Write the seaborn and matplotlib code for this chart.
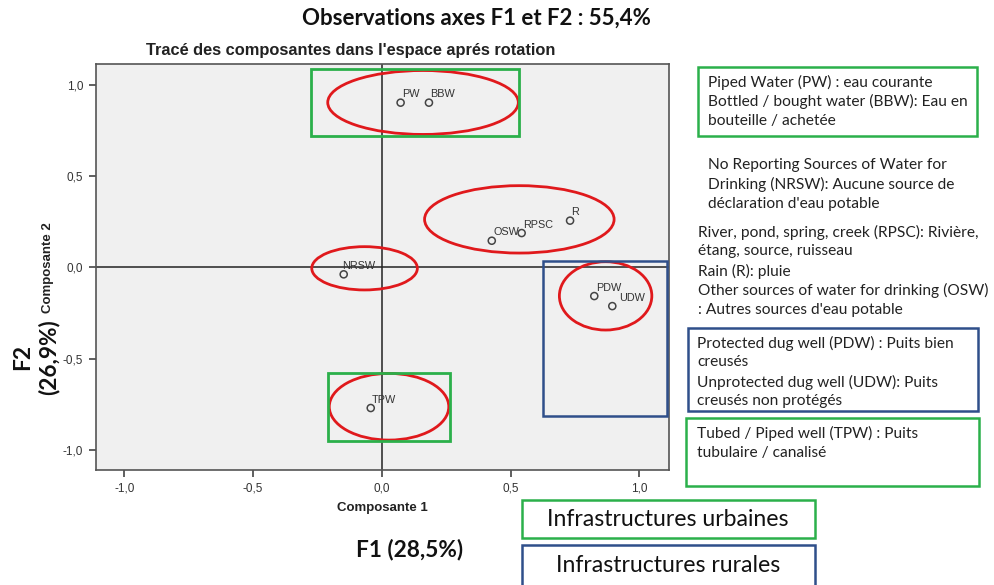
import matplotlib
matplotlib.use("Agg")
import matplotlib.pyplot as plt
from matplotlib.patches import Ellipse, Rectangle
import seaborn as sns
import pandas as pd

# component loadings
labels = ["PW", "BBW", "OSW", "RPSC", "R", "NRSW", "PDW", "UDW", "TPW"]
comp1 = [0.073, 0.183, 0.427, 0.543, 0.731, -0.148, 0.825, 0.895, -0.043]
comp2 = [0.902, 0.902, 0.146, 0.188, 0.256, -0.038, -0.157, -0.212, -0.770]

# hand drawn groupings: (center x, center y, width, height)
red_groups = [(0.16, 0.903, 0.74, 0.35), (0.534, 0.263, 0.736, 0.369),
              (-0.067, -0.005, 0.41, 0.237), (0.869, -0.156, 0.359, 0.374),
              (0.028, -0.763, 0.464, 0.365)]
# boxes: (x0, y0, x1, y1)
urban_boxes = [(-0.275, 0.717, 0.532, 1.088), (-0.21, -0.953, 0.266, -0.58)]
rural_boxes = [(0.627, -0.813, 1.108, 0.036)]

ticks = [-1.0, -0.5, 0.0, 0.5, 1.0]
tick_labels = ["-1,0", "-0,5", "0,0", "0,5", "1,0"]

legend_urban1 = ["Piped Water (PW) : eau courante",
                 "Bottled / bought water (BBW): Eau en",
                 "bouteille / achetée"]
legend_none = ["No Reporting Sources of Water for",
               "Drinking (NRSW): Aucune source de",
               "déclaration d'eau potable"]
legend_other = ["River, pond, spring, creek (RPSC): Rivière,",
                "étang, source, ruisseau",
                "Rain (R): pluie",
                "Other sources of water for drinking (OSW)",
                ": Autres sources d'eau potable"]
legend_rural = ["Protected dug well (PDW) : Puits bien",
                "creusés",
                "Unprotected dug well (UDW): Puits",
                "creusés non protégés"]
legend_urban2 = ["Tubed / Piped well (TPW) : Puits",
                 "tubulaire / canalisé"]

df = pd.DataFrame({"label": labels, "c1": comp1, "c2": comp2})

GREEN = "#2bb04a"
BLUE = "#2f4f8a"
RED = "#e0191c"
W, H = 994, 585

sns.set_style("white")
plt.rcParams["font.family"] = ["Liberation Sans", "DejaVu Sans"]

fig = plt.figure(figsize=(9.94, 5.85), dpi=100)
ax = fig.add_axes([95.7 / W, 1 - 470.3 / H, 573 / W, 406 / H])
ax.set_facecolor("#f0f0f0")

ax.axhline(0, color="#222222", lw=1.1, zorder=1)
ax.axvline(0, color="#222222", lw=1.1, zorder=1)

sns.scatterplot(data=df, x="c1", y="c2", ax=ax, marker="o", s=26,
                facecolor="none", edgecolor="#444444", linewidth=1.1, zorder=3)

for lab, x, y in zip(labels, comp1, comp2):
    off = (5, 2) if lab == "UDW" else (-1 if lab == "NRSW" else 1, 2.5)
    ax.annotate(lab, (x, y), xytext=off, textcoords="offset points",
                ha="left", va="bottom", fontsize=7.8, color="#333333")

for cx, cy, w, h in red_groups:
    ax.add_patch(Ellipse((cx, cy), w, h, fill=False, edgecolor=RED, lw=2, zorder=4, clip_on=False))
for x0, y0, x1, y1 in urban_boxes:
    ax.add_patch(Rectangle((x0, y0), x1 - x0, y1 - y0, fill=False, edgecolor=GREEN, lw=2, zorder=4, clip_on=False))
for x0, y0, x1, y1 in rural_boxes:
    ax.add_patch(Rectangle((x0, y0), x1 - x0, y1 - y0, fill=False, edgecolor=BLUE, lw=1.8, zorder=4, clip_on=False))

ax.set_xlim(-1.111, 1.114)
ax.set_ylim(-1.111, 1.112)
ax.set_xticks(ticks)
ax.set_xticklabels(tick_labels)
ax.set_yticks(ticks)
ax.set_yticklabels(tick_labels)
ax.tick_params(direction="out", length=5, width=1.2, color="#444444",
               labelsize=8.5, labelcolor="#333333", left=True, bottom=True, pad=4)
for sp in ax.spines.values():
    sp.set_color("#555555")
    sp.set_linewidth(1.2)
ax.set_xlabel("")
ax.set_ylabel("")

# titles and axis names
fig.text(476 / W, 1 - 18 / H, "Observations axes F1 et F2 : 55,4%", ha="center", va="center",
         fontsize=16, fontweight="bold", family="Lato", color="#111111")
fig.text(351 / W, 1 - 50 / H, "Tracé des composantes dans l'espace aprés rotation", ha="center",
         va="center", fontsize=11.8, fontweight="bold", color="#222222")
fig.text(382 / W, 1 - 508 / H, "Composante 1", ha="center", va="center",
         fontsize=9.5, fontweight="bold", color="#222222")
fig.text(48 / W, 1 - 268 / H, "Composante 2", ha="center", va="center", rotation=90,
         fontsize=9.5, fontweight="bold", color="#222222")
fig.text(410 / W, 1 - 549 / H, "F1 (28,5%)", ha="center", va="center",
         fontsize=16.3, fontweight="bold", family="Lato", color="#111111")
fig.text(36 / W, 1 - 357 / H, "F2\n(26,9%)", ha="center", va="center", rotation=90,
         fontsize=16.3, fontweight="bold", family="Lato", color="#111111", linespacing=1.25)


def fig_box(x0, y0, x1, y1, color):
    fig.patches.append(Rectangle((x0 / W, 1 - y1 / H), (x1 - x0) / W, (y1 - y0) / H,
                                 transform=fig.transFigure, fill=False, edgecolor=color, lw=1.8))


def fig_lines(x, y, lines, step=19.5):
    for i, t in enumerate(lines):
        fig.text(x / W, 1 - (y + i * step) / H, t, ha="left", va="center",
                 fontsize=11.2, family="Lato", color="#222222")


fig_box(698, 67, 977, 136, GREEN)
fig_lines(708, 82, legend_urban1)
fig_lines(708, 165, legend_none)
fig_lines(698, 232, legend_other)
fig_box(688, 328, 978, 411, BLUE)
fig_lines(697, 343, legend_rural)
fig_box(686, 418, 979, 486, GREEN)
fig_lines(697, 433, legend_urban2)

fig_box(522, 500, 815, 538, GREEN)
fig.text(668 / W, 1 - 519 / H, "Infrastructures urbaines", ha="center", va="center",
         fontsize=16.6, family="Lato", color="#111111")
fig_box(522, 545, 815, 590, BLUE)
fig.text(668 / W, 1 - 566 / H, "Infrastructures rurales", ha="center", va="center",
         fontsize=16.6, family="Lato", color="#111111")

fig.savefig("out.png", dpi=100)
